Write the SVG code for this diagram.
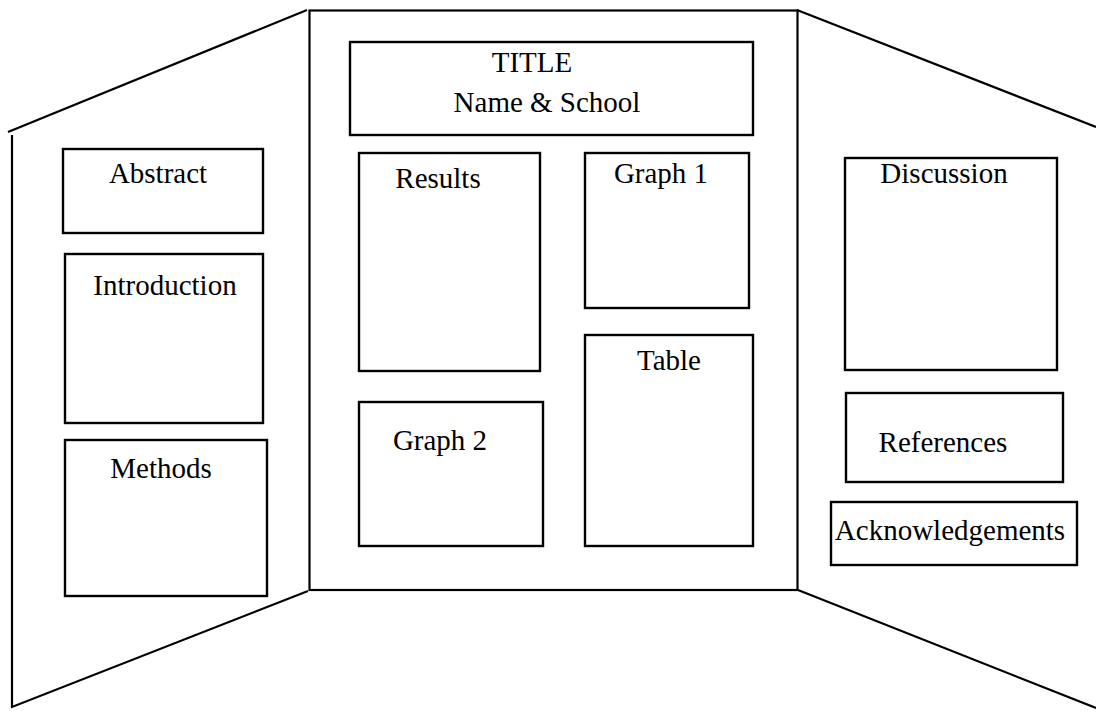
<svg xmlns="http://www.w3.org/2000/svg" width="1096" height="715" viewBox="0 0 1096 715">
<style>
.ln{fill:none;stroke:#000;stroke-width:2.2;stroke-linecap:butt}
.bx{fill:#fff;stroke:#000;stroke-width:2.4}
.tx{font-family:"Liberation Serif","Times New Roman",serif;font-size:29px;fill:#000;text-anchor:middle}
</style>
<rect width="1096" height="715" fill="#fff"/>
<g id="board">
<polyline class="ln" points="8,132 307,10"/>
<polyline class="ln" points="12,135 12,707 308,591"/>
<rect class="ln" x="309.5" y="10.5" width="488" height="579.5"/>
<polyline class="ln" points="797,10 1096,127"/>
<polyline class="ln" points="798,590 1096,708"/>
</g>
<g id="title"><rect class="bx" x="350" y="42" width="403" height="93"/><text class="tx" x="532" y="72">TITLE</text><text class="tx" x="547" y="112">Name &amp; School</text></g>
<g id="abstract"><rect class="bx" x="63" y="149" width="200" height="84"/><text class="tx" x="158" y="183">Abstract</text></g>
<g id="introduction"><rect class="bx" x="65" y="254" width="198" height="169"/><text class="tx" x="165" y="295">Introduction</text></g>
<g id="methods"><rect class="bx" x="65" y="440" width="202" height="156"/><text class="tx" x="161" y="478">Methods</text></g>
<g id="results"><rect class="bx" x="359" y="153" width="181" height="218"/><text class="tx" x="438" y="188">Results</text></g>
<g id="graph1"><rect class="bx" x="585" y="153" width="164" height="155"/><text class="tx" x="661" y="183">Graph 1</text></g>
<g id="graph2"><rect class="bx" x="359" y="402" width="184" height="144"/><text class="tx" x="440" y="450">Graph 2</text></g>
<g id="table"><rect class="bx" x="585" y="335" width="168" height="211"/><text class="tx" x="669" y="370">Table</text></g>
<g id="discussion"><rect class="bx" x="845" y="158" width="212" height="212"/><text class="tx" x="944" y="183">Discussion</text></g>
<g id="references"><rect class="bx" x="846" y="393" width="217" height="89"/><text class="tx" x="943" y="452">References</text></g>
<g id="acknowledgements"><rect class="bx" x="831" y="502" width="246" height="63"/><text class="tx" x="950" y="540">Acknowledgements</text></g>
<g id="connectors"/>
</svg>
